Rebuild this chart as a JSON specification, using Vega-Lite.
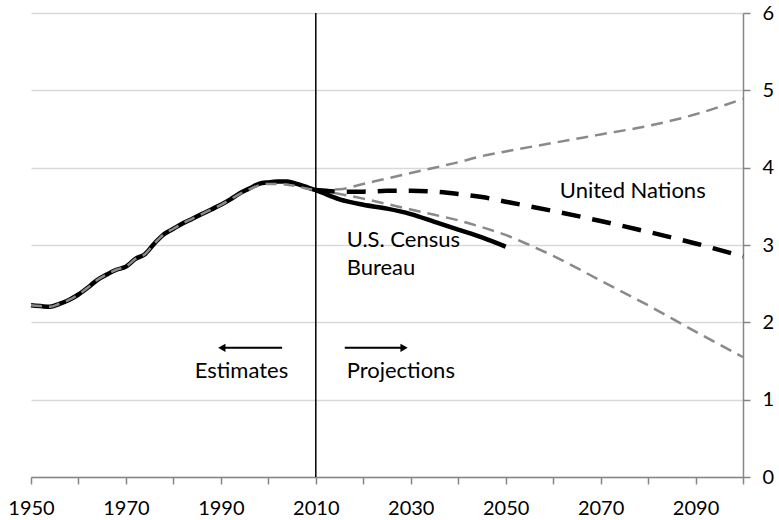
{
  "$schema": "https://vega.github.io/schema/vega-lite/v6.json",
  "width": 712,
  "height": 464,
  "autosize": {"type": "none"},
  "padding": {"left": 31, "top": 13, "right": 36, "bottom": 43},
  "background": "white",
  "config": {
    "view": {"stroke": null},
    "font": "Lato",
    "axis": {"labelFont": "Lato", "labelColor": "#000000", "labelFontSize": 20}
  },
  "datasets": {
    "series": [
      {"series": "census", "year": 1950, "value": 2.22},
      {"series": "census", "year": 1952, "value": 2.21},
      {"series": "census", "year": 1954, "value": 2.20},
      {"series": "census", "year": 1956, "value": 2.24},
      {"series": "census", "year": 1958, "value": 2.29},
      {"series": "census", "year": 1960, "value": 2.36},
      {"series": "census", "year": 1962, "value": 2.45},
      {"series": "census", "year": 1964, "value": 2.55},
      {"series": "census", "year": 1966, "value": 2.62},
      {"series": "census", "year": 1968, "value": 2.68},
      {"series": "census", "year": 1970, "value": 2.72},
      {"series": "census", "year": 1972, "value": 2.82},
      {"series": "census", "year": 1974, "value": 2.88},
      {"series": "census", "year": 1976, "value": 3.02},
      {"series": "census", "year": 1978, "value": 3.14},
      {"series": "census", "year": 1980, "value": 3.21},
      {"series": "census", "year": 1982, "value": 3.28},
      {"series": "census", "year": 1984, "value": 3.34},
      {"series": "census", "year": 1986, "value": 3.40},
      {"series": "census", "year": 1988, "value": 3.46},
      {"series": "census", "year": 1990, "value": 3.52},
      {"series": "census", "year": 1992, "value": 3.59},
      {"series": "census", "year": 1994, "value": 3.67},
      {"series": "census", "year": 1996, "value": 3.73},
      {"series": "census", "year": 1998, "value": 3.79},
      {"series": "census", "year": 2000, "value": 3.81},
      {"series": "census", "year": 2002, "value": 3.82},
      {"series": "census", "year": 2004, "value": 3.82},
      {"series": "census", "year": 2006, "value": 3.79},
      {"series": "census", "year": 2008, "value": 3.75},
      {"series": "census", "year": 2010, "value": 3.71},
      {"series": "census", "year": 2015, "value": 3.59},
      {"series": "census", "year": 2020, "value": 3.52},
      {"series": "census", "year": 2025, "value": 3.47},
      {"series": "census", "year": 2030, "value": 3.40},
      {"series": "census", "year": 2035, "value": 3.30},
      {"series": "census", "year": 2040, "value": 3.20},
      {"series": "census", "year": 2045, "value": 3.10},
      {"series": "census", "year": 2050, "value": 2.98},

      {"series": "un_est", "year": 1950, "value": 2.22},
      {"series": "un_est", "year": 1952, "value": 2.21},
      {"series": "un_est", "year": 1954, "value": 2.20},
      {"series": "un_est", "year": 1956, "value": 2.24},
      {"series": "un_est", "year": 1958, "value": 2.29},
      {"series": "un_est", "year": 1960, "value": 2.36},
      {"series": "un_est", "year": 1962, "value": 2.45},
      {"series": "un_est", "year": 1964, "value": 2.55},
      {"series": "un_est", "year": 1966, "value": 2.62},
      {"series": "un_est", "year": 1968, "value": 2.68},
      {"series": "un_est", "year": 1970, "value": 2.72},
      {"series": "un_est", "year": 1972, "value": 2.82},
      {"series": "un_est", "year": 1974, "value": 2.88},
      {"series": "un_est", "year": 1976, "value": 3.02},
      {"series": "un_est", "year": 1978, "value": 3.14},
      {"series": "un_est", "year": 1980, "value": 3.21},
      {"series": "un_est", "year": 1982, "value": 3.28},
      {"series": "un_est", "year": 1984, "value": 3.34},
      {"series": "un_est", "year": 1986, "value": 3.40},
      {"series": "un_est", "year": 1988, "value": 3.46},
      {"series": "un_est", "year": 1990, "value": 3.52},
      {"series": "un_est", "year": 1992, "value": 3.59},
      {"series": "un_est", "year": 1994, "value": 3.66},
      {"series": "un_est", "year": 1996, "value": 3.72},
      {"series": "un_est", "year": 1998, "value": 3.77},
      {"series": "un_est", "year": 2000, "value": 3.79},
      {"series": "un_est", "year": 2002, "value": 3.79},
      {"series": "un_est", "year": 2004, "value": 3.78},
      {"series": "un_est", "year": 2006, "value": 3.76},
      {"series": "un_est", "year": 2008, "value": 3.73},
      {"series": "un_est", "year": 2010, "value": 3.71},

      {"series": "un_high", "year": 2010, "value": 3.71},
      {"series": "un_high", "year": 2015, "value": 3.72},
      {"series": "un_high", "year": 2020, "value": 3.79},
      {"series": "un_high", "year": 2025, "value": 3.86},
      {"series": "un_high", "year": 2030, "value": 3.93},
      {"series": "un_high", "year": 2035, "value": 4.00},
      {"series": "un_high", "year": 2040, "value": 4.07},
      {"series": "un_high", "year": 2045, "value": 4.15},
      {"series": "un_high", "year": 2050, "value": 4.21},
      {"series": "un_high", "year": 2060, "value": 4.32},
      {"series": "un_high", "year": 2070, "value": 4.43},
      {"series": "un_high", "year": 2080, "value": 4.54},
      {"series": "un_high", "year": 2090, "value": 4.69},
      {"series": "un_high", "year": 2100, "value": 4.89},

      {"series": "un_med", "year": 2010, "value": 3.71},
      {"series": "un_med", "year": 2015, "value": 3.69},
      {"series": "un_med", "year": 2020, "value": 3.69},
      {"series": "un_med", "year": 2025, "value": 3.70},
      {"series": "un_med", "year": 2030, "value": 3.70},
      {"series": "un_med", "year": 2035, "value": 3.69},
      {"series": "un_med", "year": 2040, "value": 3.66},
      {"series": "un_med", "year": 2045, "value": 3.62},
      {"series": "un_med", "year": 2050, "value": 3.56},
      {"series": "un_med", "year": 2060, "value": 3.44},
      {"series": "un_med", "year": 2070, "value": 3.31},
      {"series": "un_med", "year": 2080, "value": 3.17},
      {"series": "un_med", "year": 2090, "value": 3.02},
      {"series": "un_med", "year": 2100, "value": 2.85},

      {"series": "un_low", "year": 2010, "value": 3.71},
      {"series": "un_low", "year": 2015, "value": 3.66},
      {"series": "un_low", "year": 2020, "value": 3.60},
      {"series": "un_low", "year": 2025, "value": 3.53},
      {"series": "un_low", "year": 2030, "value": 3.46},
      {"series": "un_low", "year": 2035, "value": 3.39},
      {"series": "un_low", "year": 2040, "value": 3.32},
      {"series": "un_low", "year": 2045, "value": 3.23},
      {"series": "un_low", "year": 2050, "value": 3.13},
      {"series": "un_low", "year": 2055, "value": 3.00},
      {"series": "un_low", "year": 2060, "value": 2.86},
      {"series": "un_low", "year": 2070, "value": 2.54},
      {"series": "un_low", "year": 2080, "value": 2.22},
      {"series": "un_low", "year": 2090, "value": 1.88},
      {"series": "un_low", "year": 2100, "value": 1.55}
    ],
    "divider": [{"year": 2010, "y0": 0, "y1": 6}],
    "labels": [
      {"text": "United Nations", "year": 2061.4, "value": 3.61},
      {"text": "U.S. Census", "year": 2016.5, "value": 2.98},
      {"text": "Bureau", "year": 2016.5, "value": 2.61},
      {"text": "Estimates", "year": 1984.5, "value": 1.28},
      {"text": "Projections", "year": 2016.5, "value": 1.28}
    ],
    "arrows": [
      {"dir": "left", "from": 2002.9, "to": 1990.2, "head": 1990.2, "value": 1.67},
      {"dir": "right", "from": 2016.1, "to": 2028.6, "head": 2028.6, "value": 1.67}
    ]
  },
  "layer": [
    {
      "data": {"name": "divider"},
      "mark": {"type": "rule", "color": "#000000", "strokeWidth": 1.5},
      "encoding": {
        "x": {
          "field": "year", "type": "quantitative",
          "scale": {"domain": [1950, 2100], "nice": false, "zero": false},
          "axis": {
            "values": [1950, 1960, 1970, 1980, 1990, 2000, 2010, 2020, 2030, 2040, 2050, 2060, 2070, 2080, 2090, 2100],
            "format": "d",
            "labelExpr": "datum.value % 20 == 10 ? datum.label : ''",
            "title": null,
            "grid": false,
            "domainColor": "#868686",
            "domainWidth": 1.5,
            "tickColor": "#868686",
            "tickWidth": 1.5,
            "tickSize": 7,
            "labelPadding": 14,
            "labelFlush": false,
            "labelOverlap": false
          }
        },
        "y": {
          "field": "y0", "type": "quantitative",
          "scale": {"domain": [0, 6], "nice": false},
          "axis": {
            "orient": "right",
            "values": [0, 1, 2, 3, 4, 5, 6],
            "format": "d",
            "title": null,
            "grid": true,
            "gridColor": "#d9d9d9",
            "gridWidth": 1.5,
            "domainColor": "#868686",
            "domainWidth": 1.5,
            "tickColor": "#868686",
            "tickWidth": 1.5,
            "tickSize": 7,
            "labelPadding": 12,
            "labelFlush": false
          }
        },
        "y2": {"field": "y1"}
      }
    },
    {
      "data": {"name": "series"},
      "transform": [{"filter": "datum.series == 'un_high' || datum.series == 'un_low'"}],
      "mark": {"type": "line", "color": "#8a8a8a", "strokeWidth": 2.5, "strokeDash": [12, 7], "interpolate": "monotone"},
      "encoding": {
        "x": {"field": "year", "type": "quantitative"},
        "y": {"field": "value", "type": "quantitative"},
        "detail": {"field": "series"}
      }
    },
    {
      "data": {"name": "series"},
      "transform": [{"filter": "datum.series == 'un_med'"}],
      "mark": {"type": "line", "color": "#000000", "strokeWidth": 4.5, "strokeDash": [19, 12], "interpolate": "monotone"},
      "encoding": {
        "x": {"field": "year", "type": "quantitative"},
        "y": {"field": "value", "type": "quantitative"}
      }
    },
    {
      "data": {"name": "series"},
      "transform": [{"filter": "datum.series == 'census'"}],
      "mark": {"type": "line", "color": "#000000", "strokeWidth": 4.5, "interpolate": "monotone"},
      "encoding": {
        "x": {"field": "year", "type": "quantitative"},
        "y": {"field": "value", "type": "quantitative"}
      }
    },
    {
      "data": {"name": "series"},
      "transform": [{"filter": "datum.series == 'un_est'"}],
      "mark": {"type": "line", "color": "#8a8a8a", "strokeWidth": 2.5, "strokeDash": [11, 7], "interpolate": "monotone"},
      "encoding": {
        "x": {"field": "year", "type": "quantitative"},
        "y": {"field": "value", "type": "quantitative"}
      }
    },
    {
      "data": {"name": "labels"},
      "mark": {"type": "text", "align": "left", "baseline": "alphabetic", "fontSize": 22, "font": "Lato", "color": "#000000"},
      "encoding": {
        "x": {"field": "year", "type": "quantitative"},
        "y": {"field": "value", "type": "quantitative"},
        "text": {"field": "text"}
      }
    },
    {
      "data": {"name": "arrows"},
      "mark": {"type": "rule", "color": "#000000", "strokeWidth": 2},
      "encoding": {
        "x": {"field": "from", "type": "quantitative"},
        "x2": {"field": "to"},
        "y": {"field": "value", "type": "quantitative"}
      }
    },
    {
      "data": {"name": "arrows"},
      "mark": {"type": "point", "filled": true, "color": "#000000", "opacity": 1, "size": 70},
      "encoding": {
        "x": {"field": "head", "type": "quantitative"},
        "y": {"field": "value", "type": "quantitative"},
        "shape": {
          "field": "dir", "type": "nominal",
          "scale": {"domain": ["left", "right"], "range": ["triangle-left", "triangle-right"]},
          "legend": null
        }
      }
    }
  ]
}
